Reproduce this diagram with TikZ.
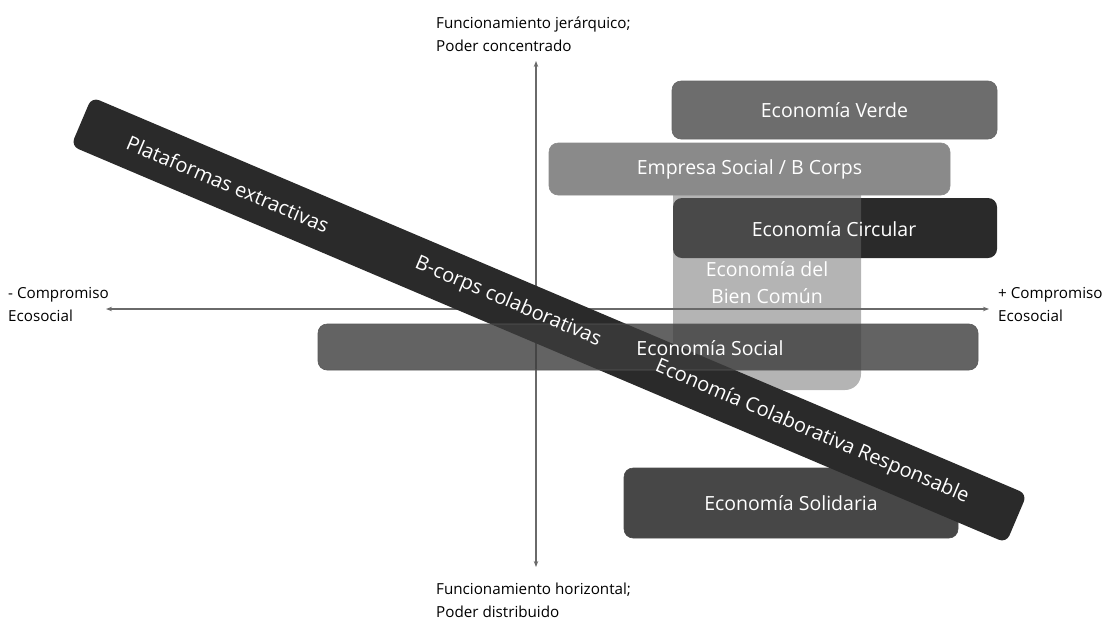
\documentclass[tikz,border=0pt]{standalone}
\usepackage{fontspec}
\setmainfont{Open Sans}
\usetikzlibrary{arrows.meta,positioning}

\definecolor{axisgray}{HTML}{6A6A6A}
\definecolor{verdegray}{HTML}{6D6D6D}
\definecolor{empresagray}{HTML}{8A8A8A}
\definecolor{circulargray}{HTML}{2A2A2A}
\definecolor{comungray}{HTML}{696969}
\definecolor{socialgray}{HTML}{3C3C3C}
\definecolor{solidariagray}{HTML}{474747}
\definecolor{bandgray}{HTML}{2A2A2A}

\begin{document}
\begin{tikzpicture}[>=Stealth, x=1pt, y=-1pt,
  axis/.style={line width=1.2pt, draw=axisgray, >={Stealth[length=6pt,width=4.5pt]}},
  lab/.style={align=left, anchor=west, inner sep=0pt, font=\fontsize{15.2}{23}\selectfont},
  eco/.style={rounded corners=9pt, draw=black!60, line width=0.6pt, inner sep=0pt,
    text=white, font=\fontsize{19.5}{27}\selectfont},
  ecotext/.style={text=white, inner sep=0pt, font=\fontsize{19.5}{27}\selectfont},
  bandtext/.style={text=white, inner sep=0pt, rotate=-23, font=\fontsize{20}{24}\selectfont}]

\useasboundingbox (0,0) rectangle (1102,619);

% ===== AXES =====
\coordinate (top) at (536,61);
\coordinate (bottom) at (536,567);
\coordinate (left) at (106,309);
\coordinate (right) at (989,309);

\draw[axis,<->] (bottom) -- (top);
\draw[axis,<->] (left) -- (right);

\node[lab] (jerarquico) at (436,34) {Funcionamiento jerárquico;\\Poder concentrado};
\node[lab] (horizontal) at (436,600) {Funcionamiento horizontal;\\Poder distribuido};
\node[lab] (menos) at (8,304) {- Compromiso\\Ecosocial};
\node[lab] (mas) at (998,304) {+ Compromiso\\Ecosocial};

% ===== ECONOMY BOXES =====
\node[eco, fill=circulargray, draw=none, minimum width=324pt, minimum height=60pt] (circular) at (835,228) {};
\node[eco, fill=comungray, fill opacity=0.5, text opacity=1, draw=none, align=center,
  rounded corners=16pt, minimum width=188pt, minimum height=214pt] (comun) at (767,283)
  {Economía del\\Bien Común};
\node[ecotext] (circulartext) at (834,229) {Economía Circular};

\node[eco, fill=empresagray, draw=black!45, minimum width=401pt, minimum height=52pt] (empresa) at (749.5,169) {Empresa Social / B Corps};
\node[eco, fill=verdegray, minimum width=325pt, minimum height=58pt] (verde) at (834.5,110) {Economía Verde};
\node[eco, fill=solidariagray, draw=black!70, minimum width=334pt, minimum height=70pt] (solidaria) at (791,503) {Economía Solidaria};

% ===== DIAGONAL BAND =====
\node[fill=bandgray, rounded corners=8pt, inner sep=0pt, rotate=-23,
  minimum width=1016pt, minimum height=53pt] (band) at (549,320) {};

% social economy lies over the band
\node[eco, fill=socialgray, fill opacity=0.8, text opacity=1, draw=black!65,
  minimum width=660pt, minimum height=46pt] (social) at (648,347) {};
\node[ecotext] (socialtext) at (710,348) {Economía Social};

\node[bandtext] (plataformas) at (228,184) {Plataformas extractivas};
\node[bandtext] (bcorps) at (508,302) {B-corps colaborativas};
\node[bandtext] (responsable) at (812,432) {Economía Colaborativa Responsable};

\end{tikzpicture}
\end{document}
